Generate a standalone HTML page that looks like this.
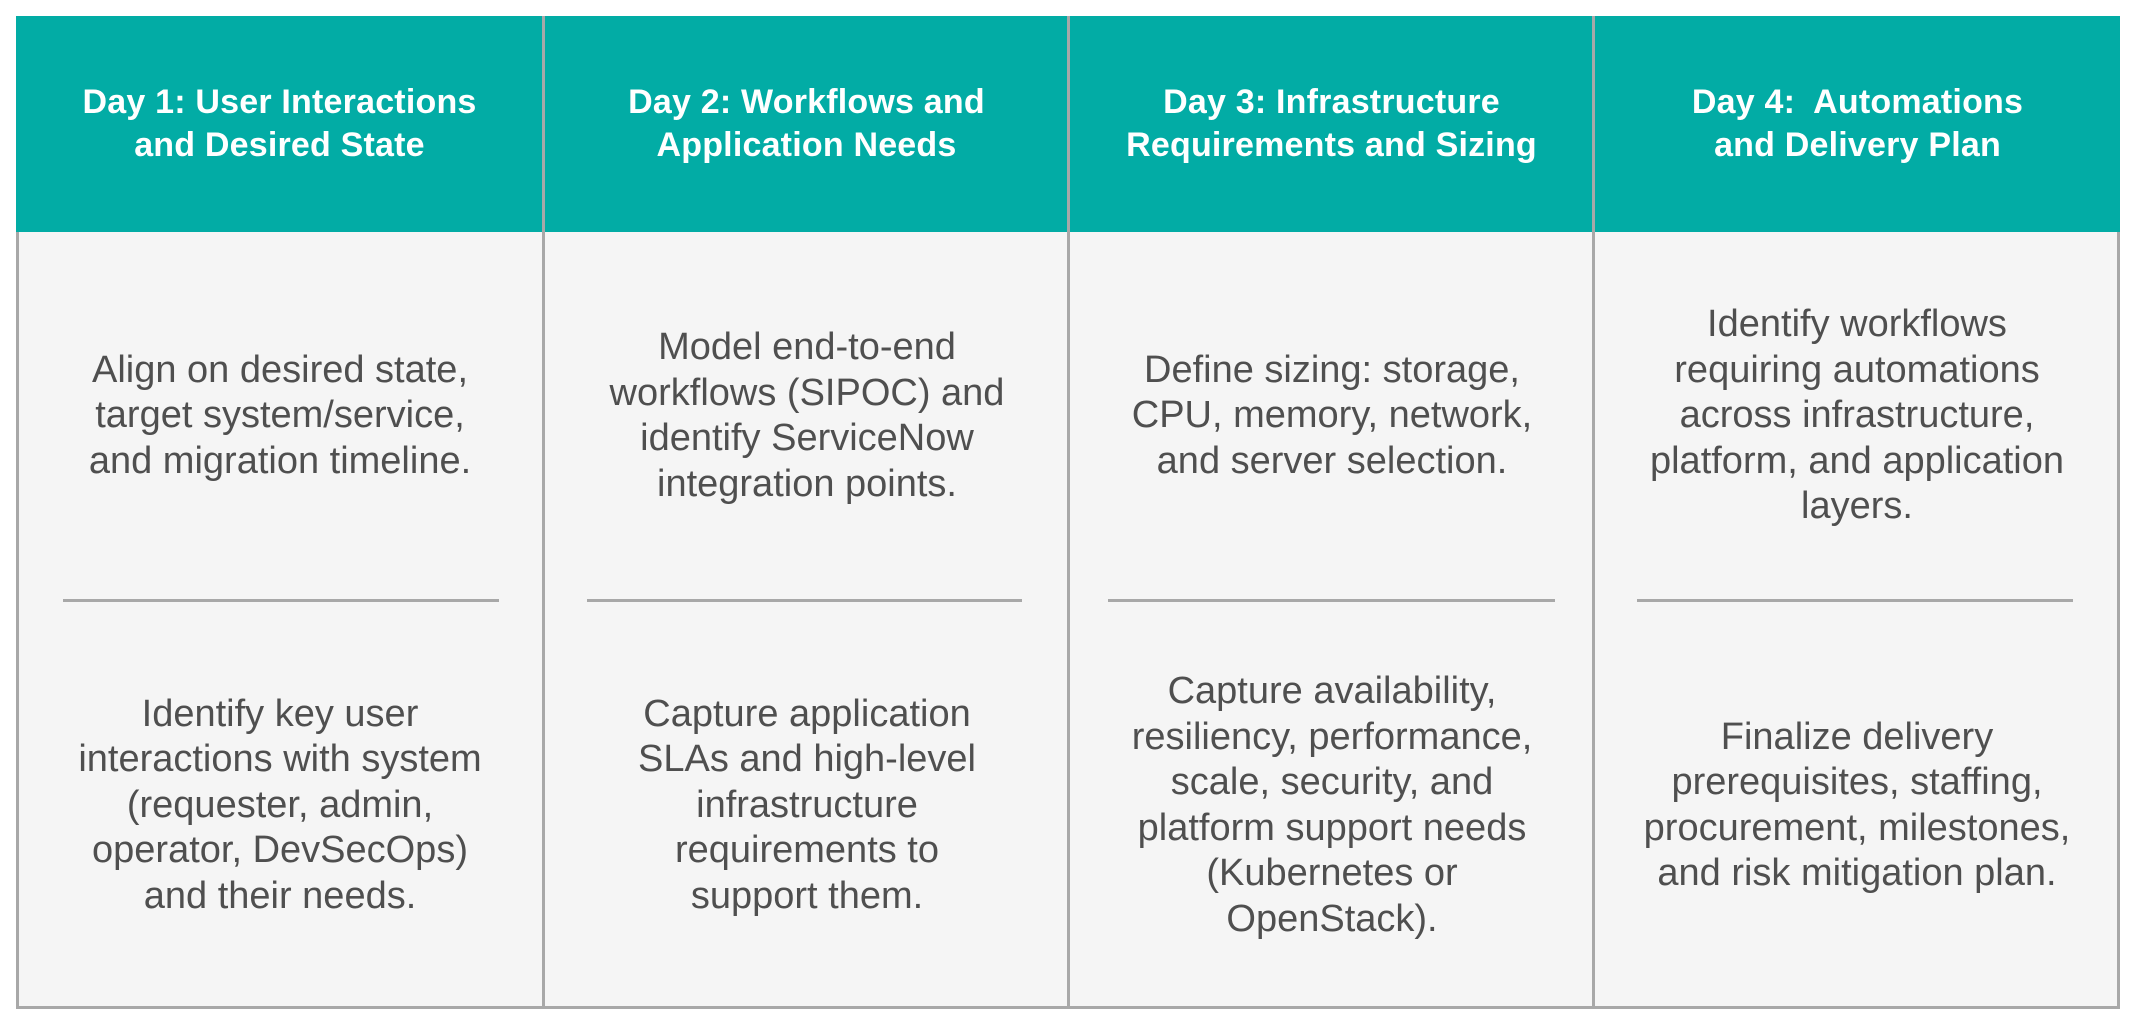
<!DOCTYPE html>
<html><head><meta charset="utf-8"><style>
html,body{margin:0;padding:0;background:#fff;width:2138px;height:1028px;overflow:hidden;font-family:"Liberation Sans",sans-serif}
.tbl{position:absolute;left:16px;top:16px;width:2104px;height:993px;background:#f5f5f5;box-sizing:border-box;border:3px solid #a8a8a8;border-top:none}
.hdr{position:absolute;left:16px;top:16px;width:2104px;height:216px;background:#02aca5}
.vl{position:absolute;top:16px;width:3px;height:993px;background:#a8a8a8}
.h{position:absolute;top:16px;height:216px;display:flex;align-items:center;justify-content:center;text-align:center;color:#fff;font-weight:bold;font-size:34px;line-height:43px;letter-spacing:0.2px}
.c{position:absolute;display:flex;align-items:center;justify-content:center;text-align:center;color:#4f4f4f;font-size:38px;line-height:45.5px;letter-spacing:0px}
.up{top:232px;height:368px}
.lo{top:602px;height:407px}
.hl{position:absolute;top:599px;height:3px;background:#a8a8a8}
</style></head><body>
<div class="tbl"></div>
<div class="hdr"></div>
<div class="vl" style="left:542px"></div>
<div class="vl" style="left:1067px"></div>
<div class="vl" style="left:1592px"></div>

<div class="h" style="left:16px;width:527px">Day 1: User Interactions<br>and Desired State</div>
<div class="h" style="left:545px;width:523px">Day 2: Workflows and<br>Application Needs</div>
<div class="h" style="left:1070px;width:523px">Day 3: Infrastructure<br>Requirements and Sizing</div>
<div class="h" style="left:1595px;width:525px">Day 4:&nbsp; Automations<br>and Delivery Plan</div>

<div class="c up" style="left:20px;width:520px">Align on desired state,<br>target system/service,<br>and migration timeline.</div>
<div class="c up" style="left:548px;width:518px">Model end-to-end<br>workflows (SIPOC) and<br>identify ServiceNow<br>integration points.</div>
<div class="c up" style="left:1073px;width:518px">Define sizing: storage,<br>CPU, memory, network,<br>and server selection.</div>
<div class="c up" style="left:1598px;width:518px">Identify workflows<br>requiring automations<br>across infrastructure,<br>platform, and application<br>layers.</div>

<div class="hl" style="left:63px;width:436px"></div>
<div class="hl" style="left:587px;width:435px"></div>
<div class="hl" style="left:1108px;width:447px"></div>
<div class="hl" style="left:1637px;width:436px"></div>

<div class="c lo" style="left:20px;width:520px">Identify key user<br>interactions with system<br>(requester, admin,<br>operator, DevSecOps)<br>and their needs.</div>
<div class="c lo" style="left:548px;width:518px">Capture application<br>SLAs and high-level<br>infrastructure<br>requirements to<br>support them.</div>
<div class="c lo" style="left:1073px;width:518px">Capture availability,<br>resiliency, performance,<br>scale, security, and<br>platform support needs<br>(Kubernetes or<br>OpenStack).</div>
<div class="c lo" style="left:1598px;width:518px">Finalize delivery<br>prerequisites, staffing,<br>procurement, milestones,<br>and risk mitigation plan.</div>
</body></html>
